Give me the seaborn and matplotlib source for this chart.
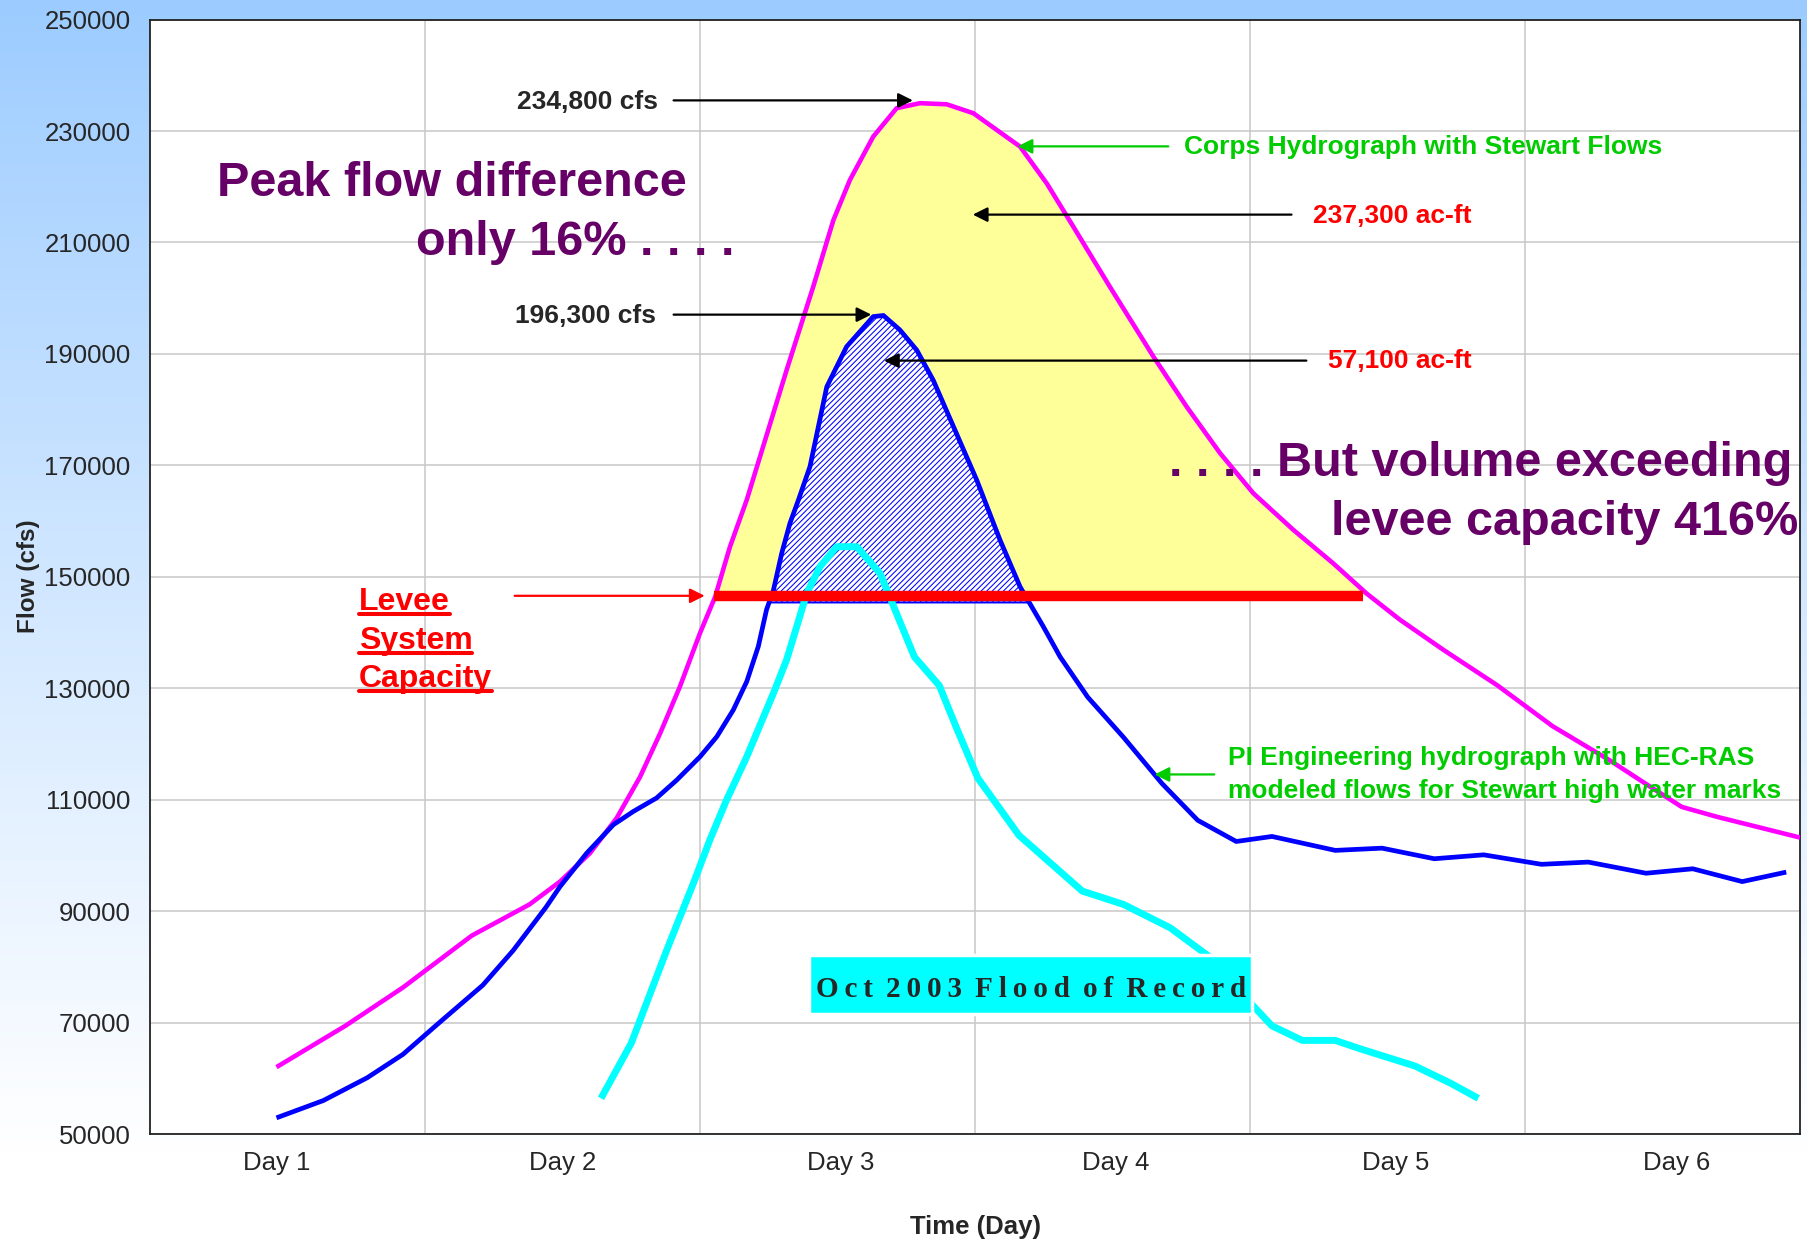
import numpy as np
import pandas as pd
import matplotlib.pyplot as plt
import seaborn as sns
from matplotlib.lines import Line2D
from matplotlib.patches import Rectangle

# Corps hydrograph with Stewart flows (x = days from chart start)
corps_day = [0.46, 0.71, 0.92, 1.17, 1.38, 1.491, 1.60, 1.697, 1.782, 1.855, 1.927, 2.0, 2.055,
             2.109, 2.170, 2.315, 2.412, 2.485, 2.545, 2.630, 2.715, 2.80, 2.897, 2.994, 3.079,
             3.164, 3.261, 3.358, 3.491, 3.649, 3.770, 3.891, 4.012, 4.158, 4.303, 4.424,
             4.545, 4.703, 4.90, 5.10, 5.31, 5.45, 5.57, 5.70, 5.83, 6.0]
corps_cfs = [62000, 69400, 76300, 85600, 91200, 95300, 100400, 106700, 114100, 121900, 130300,
             139900, 146400, 155400, 163800, 187100, 202100, 214000, 221200, 229000, 234100,
             235000, 234800, 233200, 230200, 227200, 220600, 212800, 202000, 189500,
             180500, 172200, 165000, 158400, 152400, 147000, 142300, 136900, 130500, 123200,
             117000, 112500, 108700, 106900, 105300, 103200]

# PI Engineering hydrograph (HEC-RAS)
pi_day = [0.46, 0.63, 0.79, 0.92, 1.05, 1.21, 1.32, 1.44, 1.491, 1.588, 1.685, 1.758, 1.842,
          1.915, 2.0, 2.061, 2.121, 2.170, 2.212, 2.242, 2.267, 2.297, 2.327, 2.358, 2.40, 2.461,
          2.533, 2.630, 2.667, 2.727, 2.788, 2.848, 3.006, 3.091, 3.164, 3.248, 3.31, 3.41,
          3.54, 3.68, 3.81, 3.95, 4.08, 4.31, 4.48, 4.67, 4.85, 5.06, 5.23, 5.44, 5.61, 5.79, 5.95]
pi_cfs = [52900, 56000, 60100, 64300, 69900, 76700, 82900, 90700, 94400, 100400, 105500, 107900,
          110300, 113500, 117700, 121300, 126100, 131200, 137500, 144100, 147600, 154200, 159600,
          163800, 169800, 184100, 191300, 196700, 196900, 194300, 190700, 185300, 167400,
          156600, 148200, 141100, 135600, 128400, 121200, 112900, 106300, 102500, 103400, 100900,
          101300, 99400, 100100, 98400, 98800, 96800, 97600, 95300, 97000]

# Oct 2003 flood of record
oct_day = [1.64, 1.75, 1.879, 1.976, 2.036, 2.097, 2.170, 2.267, 2.315, 2.352, 2.388, 2.436,
           2.497, 2.570, 2.655, 2.739, 2.78, 2.87, 2.93, 3.01, 3.16, 3.39, 3.54, 3.71, 3.85,
           4.00, 4.08, 4.19, 4.31, 4.40, 4.60, 4.73, 4.83]
oct_cfs = [56400, 66300, 83000, 95000, 102800, 110000, 117700, 129100, 135100, 141100, 147000,
           151800, 155400, 155400, 150600, 140500, 135600, 130500, 123200, 113900, 103600, 93600,
           91200, 87000, 81900, 73600, 69400, 66800, 66800, 65300, 62200, 59100, 56400]

levee_cfs = 146600
levee_from, levee_to = 2.05, 4.41

day_labels = ['Day 1', 'Day 2', 'Day 3', 'Day 4', 'Day 5', 'Day 6']
day_label_pos = [0.46, 1.50, 2.51, 3.51, 4.53, 5.55]
flow_ticks = list(range(50000, 250001, 20000))

corps = pd.DataFrame({'day': corps_day, 'cfs': corps_cfs})
pi = pd.DataFrame({'day': pi_day, 'cfs': pi_cfs})
oct03 = pd.DataFrame({'day': oct_day, 'cfs': oct_cfs})

sns.set_style('white')
plt.rcParams['font.family'] = ['Liberation Sans', 'DejaVu Sans']
plt.rcParams['hatch.linewidth'] = 0.75

fig = plt.figure(figsize=(18.07, 12.53), dpi=100)

# blue to white background
bg = fig.add_axes([0, 0, 1, 1], zorder=-10)
t = np.clip(np.linspace(0, 1, 400) / 0.92, 0, 1) ** 0.9
top = np.array([155, 203, 255]) / 255
grad = top[None, :] + (1 - top[None, :]) * t[:, None]
bg.imshow(grad[:, None, :], aspect='auto', extent=[0, 1, 0, 1], origin='upper')
bg.axis('off')

ax = fig.add_axes([150 / 1807, 1 - 1134 / 1253, 1650 / 1807, 1114.4 / 1253])
ax.set_facecolor('white')

# filled volumes above levee capacity
ax.fill_between(corps['day'], corps['cfs'], levee_cfs, where=corps['cfs'] >= levee_cfs,
                interpolate=True, color='#FFFF99', linewidth=0, zorder=1)
ax.fill_between(pi['day'], pi['cfs'], levee_cfs - 1200, where=pi['cfs'] >= levee_cfs - 1200,
                interpolate=True, facecolor='white', edgecolor='#0000FF', hatch='//////',
                linewidth=1.5, zorder=2)

line_kw = dict(solid_joinstyle='round', solid_capstyle='butt')
sns.lineplot(data=corps, x='day', y='cfs', ax=ax, color='#FF00FF', linewidth=3.3, zorder=4, **line_kw)
sns.lineplot(data=pi, x='day', y='cfs', ax=ax, color='#0000FF', linewidth=3.4, zorder=4, **line_kw)
sns.lineplot(data=oct03, x='day', y='cfs', ax=ax, color='#00FFFF', linewidth=5, zorder=3, **line_kw)
ax.plot([levee_from, levee_to], [levee_cfs, levee_cfs], color='#FF0000', linewidth=7.5,
        solid_capstyle='butt', zorder=6)

ax.set_xlim(0, 6)
ax.set_ylim(50000, 250000)
ax.set_yticks(flow_ticks)
ax.set_yticklabels([str(v) for v in flow_ticks], fontsize=18.5)
ax.set_xticks([1, 2, 3, 4, 5])
ax.set_xticklabels([])
ax.set_xticks(day_label_pos, minor=True)
ax.set_xticklabels(day_labels, minor=True, fontsize=18.5)
ax.tick_params(axis='both', which='both', length=0)
ax.tick_params(axis='y', pad=14)
ax.tick_params(axis='x', which='minor', pad=12)
ax.grid(True, which='major', color='#C8C8C8', linewidth=1.1)
ax.set_axisbelow(True)
for s in ax.spines.values():
    s.set_color('#222222')
    s.set_linewidth(1.3)
ax.set_xlabel('')
ax.set_ylabel('')
fig.text(0.016, 0.54, 'Flow (cfs)', rotation=90, fontsize=17.5, fontweight='bold',
         ha='center', va='center')
fig.text(0.5396, 0.0207, 'Time (Day)', fontsize=18.5, fontweight='bold', ha='center', va='center')

purple = '#660066'
green = '#00CC00'
bold = dict(fontweight='bold')


def arrow(x0, x1, y, color):
    ax.annotate('', xy=(x1, y), xytext=(x0, y),
                arrowprops=dict(arrowstyle='-|>', color=color, lw=1.6, mutation_scale=22,
                                shrinkA=0, shrinkB=0), zorder=8)


ax.text(1.59, 235300, '234,800 cfs', fontsize=19, ha='center', va='center', zorder=8, **bold)
arrow(1.904, 2.774, 235500, 'black')
ax.text(4.628, 227050, 'Corps Hydrograph with Stewart Flows', fontsize=19, color=green,
        ha='center', va='center', zorder=8, **bold)
arrow(3.703, 3.155, 227250, green)
ax.text(4.519, 214700, '237,300 ac-ft', fontsize=19, color='#FF0000', ha='center', va='center',
        zorder=8, **bold)
arrow(4.151, 2.992, 215000, 'black')
ax.text(1.582, 196850, '196,300 cfs', fontsize=19, ha='center', va='center', zorder=8, **bold)
arrow(1.904, 2.623, 197050, 'black')
ax.text(4.544, 188800, '57,100 ac-ft', fontsize=19, color='#FF0000', ha='center', va='center',
        zorder=8, **bold)
arrow(4.205, 2.669, 188800, 'black')

ax.text(1.096, 220500, 'Peak flow difference', fontsize=35, color=purple, ha='center',
        va='center', zorder=8, **bold)
ax.text(1.548, 209950, 'only 16% . . . .', fontsize=35, color=purple, ha='center',
        va='center', zorder=8, **bold)
ax.text(5.971, 170250, '. . . . But volume exceeding', fontsize=35, color=purple, ha='right',
        va='center', zorder=8, **bold)
ax.text(5.992, 159700, 'levee capacity 416%', fontsize=35, color=purple, ha='right',
        va='center', zorder=8, **bold)

ax.text(3.921, 117400, 'PI Engineering hydrograph with HEC-RAS', fontsize=19, color=green,
        ha='left', va='center', zorder=8, **bold)
ax.text(3.921, 111600, 'modeled flows for Stewart high water marks', fontsize=19, color=green,
        ha='left', va='center', zorder=8, **bold)
arrow(3.870, 3.653, 114530, green)

levee_txt = []
for word, yb in zip(['Levee', 'System', 'Capacity'], [144100, 137070, 130250]):
    levee_txt.append((ax.text(0.759, yb, word, fontsize=23, color='#FF0000', ha='left',
                              va='baseline', zorder=8, **bold), yb))
arrow(1.326, 2.017, 146590, '#FF0000')

# flood of record label box
ax.add_patch(Rectangle((0.3994, 0.1077), 0.2685, 0.0529, transform=ax.transAxes,
                       facecolor='#00FFFF', edgecolor='white', linewidth=2.5, zorder=7))
flood = ' \u2009'.join('\u2009'.join(w) for w in ['Oct', '2003', 'Flood', 'of', 'Record'])
ax.text(0.5337, 0.1299, flood, transform=ax.transAxes, fontsize=21,
        family=['Liberation Serif', 'DejaVu Serif'], fontweight='bold', ha='center',
        va='center', zorder=8)

# underline the levee words
fig.canvas.draw()
W, H = fig.bbox.width, fig.bbox.height
for txt, yb in levee_txt:
    bb = txt.get_window_extent()
    ypx = ax.transData.transform((0, yb))[1] - 4
    fig.add_artist(Line2D([bb.x0 / W, bb.x1 / W], [ypx / H, ypx / H], color='#FF0000',
                          linewidth=2.9, transform=fig.transFigure, zorder=9))

fig.savefig('out.png', dpi=100)
